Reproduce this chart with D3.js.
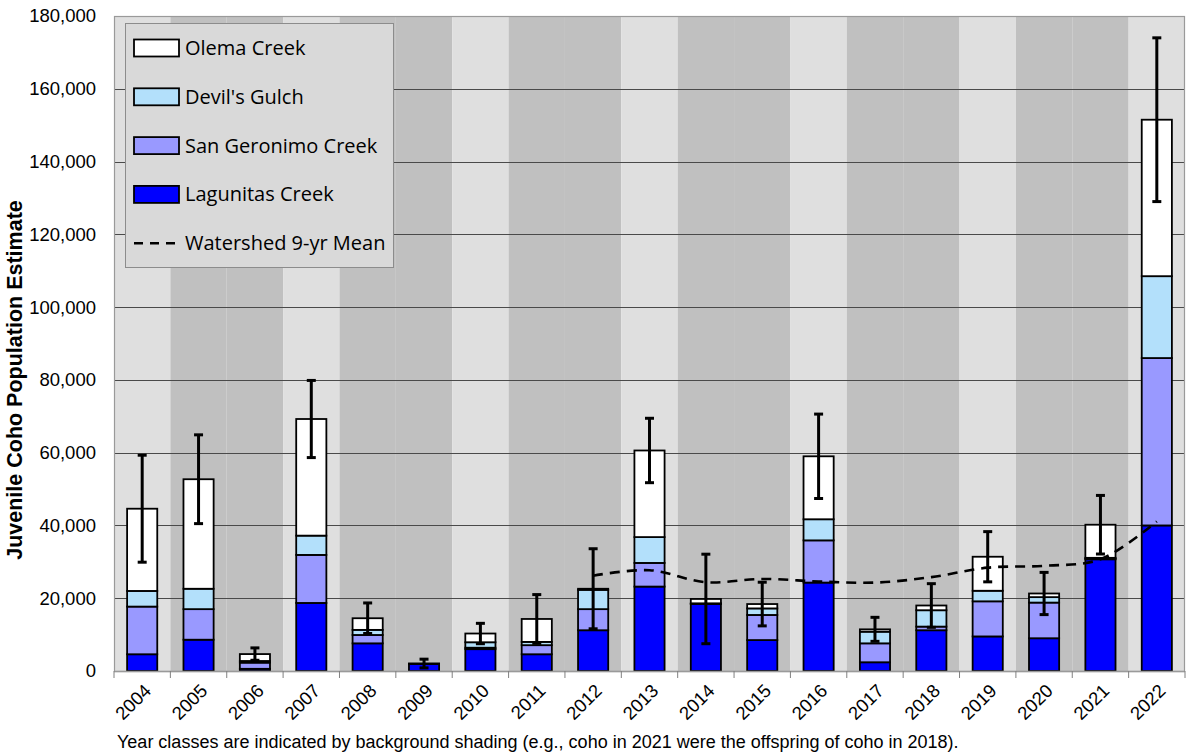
<!DOCTYPE html>
<html>
<head>
<meta charset="utf-8">
<script src="https://cdn.jsdelivr.net/npm/d3@7/dist/d3.min.js"></script>
<style>
  html, body { margin: 0; padding: 0; background: #ffffff; }
  svg { display: block; }
</style>
</head>
<body>
<svg id="chart" width="1188" height="755"></svg>
<script>
// ---- Data ----
const years = ["2004","2005","2006","2007","2008","2009","2010","2011","2012","2013","2014","2015","2016","2017","2018","2019","2020","2021","2022"];
const lagunitas = [4600, 8600, 600, 18700, 7600, 1900, 6000, 4600, 11200, 23200, 18400, 8500, 24300, 2400, 11200, 9500, 9000, 30700, 40000];
const sanGeronimo = [13100, 8400, 1700, 13200, 2300, 50, 400, 2500, 5800, 6500, 100, 6900, 11600, 5200, 1000, 9650, 9800, 200, 46000];
const devilsGulch = [4300, 5600, 450, 5300, 1400, 50, 1500, 900, 5300, 7100, 100, 1800, 5800, 3200, 4500, 2900, 1500, 200, 22500];
const olema = [22600, 30100, 1900, 32050, 3200, 50, 2400, 6300, 300, 23800, 1200, 1200, 17300, 650, 1300, 9350, 1000, 9100, 43000];
const errorHalf = [14700, 12200, 1700, 10600, 4200, 1200, 2800, 6700, 11000, 8850, 12300, 6000, 11600, 3300, 6000, 6900, 5800, 8050, 22500];
const meanYears = ["2012","2013","2014","2015","2016","2017","2018","2019","2020","2021","2022"];
const meanValues = [26200, 27700, 24400, 25300, 24600, 24300, 25800, 28400, 28900, 30700, 41100];
const yTicks = [0, 20000, 40000, 60000, 80000, 100000, 120000, 140000, 160000, 180000];
const seriesNames = ["Lagunitas Creek", "San Geronimo Creek", "Devil's Gulch", "Olema Creek"];
const seriesColors = ["#0000ff", "#9999ff", "#b3e0fb", "#ffffff"];
const lightYears = ["2004","2007","2010","2013","2016","2019","2022"];

// ---- Layout ----
const svg = d3.select("#chart");
const L = 114, R = 1185, T = 16, B = 671;

const x = d3.scaleBand().domain(years).range([L, R]).paddingInner(0).paddingOuter(0);
const y = d3.scaleLinear().domain([0, 180000]).range([B, T]);
const barW = x.bandwidth() * 0.535;

// backgrounds
svg.append("g").selectAll("rect").data(years).join("rect")
  .attr("x", d => x(d)).attr("y", T)
  .attr("width", x.bandwidth()).attr("height", B - T)
  .attr("fill", d => lightYears.includes(d) ? "#dfdfdf" : "#c0c0c0");

// gridlines
svg.append("g").selectAll("line").data(yTicks.filter(v => v > 0 && v < 180000)).join("line")
  .attr("x1", L).attr("x2", R)
  .attr("y1", d => Math.round(y(d)) + 0.5).attr("y2", d => Math.round(y(d)) + 0.5)
  .attr("stroke", "#4a4a4a").attr("stroke-width", 1);

// plot border
svg.append("rect").attr("x", L + 0.5).attr("y", T + 0.5)
  .attr("width", R - L - 1).attr("height", B - T)
  .attr("fill", "none").attr("stroke", "#9a9a9a").attr("stroke-width", 1.2);

// stacked data
const rows = years.map((yr, i) => ({ year: yr, "Lagunitas Creek": lagunitas[i], "San Geronimo Creek": sanGeronimo[i], "Devil's Gulch": devilsGulch[i], "Olema Creek": olema[i] }));
const stack = d3.stack().keys(seriesNames)(rows);

const gBars = svg.append("g");
stack.forEach((layer, li) => {
  gBars.append("g").selectAll("rect").data(layer).join("rect")
    .attr("x", d => x(d.data.year) + (x.bandwidth() - barW) / 2)
    .attr("y", d => y(d[1]))
    .attr("width", barW)
    .attr("height", d => Math.max(0, y(d[0]) - y(d[1])))
    .attr("fill", seriesColors[li])
    .attr("stroke", "#000").attr("stroke-width", 1.8);
});

// x axis
const gx = svg.append("g").attr("transform", `translate(0,${B})`);
gx.append("line").attr("x1", L).attr("x2", R).attr("y1", 0.5).attr("y2", 0.5).attr("stroke", "#9a9a9a").attr("stroke-width", 1.5);
gx.selectAll("line.tk").data(years.concat(["end"])).join("line").attr("class", "tk")
  .attr("x1", d => d === "end" ? R : x(d)).attr("x2", d => d === "end" ? R : x(d))
  .attr("y1", 0).attr("y2", 7).attr("stroke", "#808080").attr("stroke-width", 1);
gx.selectAll("text").data(years).join("text")
  .attr("transform", d => `translate(${x(d) + x.bandwidth() / 2 + 10},${21}) rotate(-45)`)
  .attr("text-anchor", "end")
  .attr("font-family", "Liberation Sans, Arial, sans-serif")
  .attr("font-size", 18.5).attr("fill", "#000")
  .text(d => d);

// y axis labels
const yAxis = d3.axisLeft(y).tickValues(yTicks).tickSize(0).tickPadding(18).tickFormat(d3.format(","));
const gy = svg.append("g").attr("transform", `translate(${L},0)`).call(yAxis);
gy.select(".domain").remove();
gy.selectAll("text").attr("font-family", "Liberation Sans, Arial, sans-serif").attr("font-size", 18.5).attr("fill", "#000");

// error bars
const totals = years.map((yr, i) => lagunitas[i] + sanGeronimo[i] + devilsGulch[i] + olema[i]);
const gErr = svg.append("g").attr("stroke", "#000").attr("stroke-width", 3);
years.forEach((yr, i) => {
  const cx = x(yr) + x.bandwidth() / 2;
  const top = y(totals[i] + errorHalf[i]), bot = y(totals[i] - errorHalf[i]);
  gErr.append("line").attr("x1", cx).attr("x2", cx).attr("y1", top).attr("y2", bot);
  gErr.append("line").attr("x1", cx - 4.5).attr("x2", cx + 4.5).attr("y1", top).attr("y2", top);
  gErr.append("line").attr("x1", cx - 4.5).attr("x2", cx + 4.5).attr("y1", bot).attr("y2", bot);
});

// mean line
const meanLine = d3.line()
  .x((d, i) => x(meanYears[i]) + x.bandwidth() / 2)
  .y(d => y(d))
  .curve(d3.curveCatmullRom.alpha(0.5));
svg.append("path").datum(meanValues)
  .attr("d", meanLine)
  .attr("fill", "none").attr("stroke", "#000").attr("stroke-width", 2.6)
  .attr("stroke-dasharray", "10,7");

// legend
const lg = svg.append("g");
lg.append("rect").attr("x", 125.5).attr("y", 23.5).attr("width", 268).attr("height", 244)
  .attr("fill", "#d9d9d9").attr("stroke", "#8c8c8c").attr("stroke-width", 1);
const legendItems = [
  { name: "Olema Creek", color: "#ffffff" },
  { name: "Devil's Gulch", color: "#b3e0fb" },
  { name: "San Geronimo Creek", color: "#9999ff" },
  { name: "Lagunitas Creek", color: "#0000ff" },
  { name: "Watershed 9-yr Mean", color: null }
];
legendItems.forEach((it, i) => {
  const cy = 48 + i * 48.8;
  if (it.color) {
    lg.append("rect").attr("x", 134).attr("y", cy - 8.5).attr("width", 45).attr("height", 17)
      .attr("fill", it.color).attr("stroke", "#000").attr("stroke-width", 1.8);
  } else {
    lg.append("line").attr("x1", 134).attr("x2", 180).attr("y1", cy).attr("y2", cy)
      .attr("stroke", "#000").attr("stroke-width", 2.6).attr("stroke-dasharray", "9,7");
  }
  lg.append("text").attr("x", 185).attr("y", cy + 7)
    .attr("font-family", "Open Sans, Noto Sans, sans-serif").attr("font-size", 20)
    .attr("fill", "#000").text(it.name);
});

// y title
svg.append("text")
  .attr("transform", `translate(22,380) rotate(-90)`)
  .attr("text-anchor", "middle")
  .attr("font-family", "Liberation Sans, Arial, sans-serif")
  .attr("font-size", 21.5).attr("font-weight", "bold").attr("fill", "#000")
  .text("Juvenile Coho Population Estimate");

// footnote
svg.append("text").attr("x", 117).attr("y", 748)
  .attr("font-family", "Liberation Sans, Arial, sans-serif")
  .attr("font-size", 18).attr("fill", "#000")
  .text("Year classes are indicated by background shading (e.g., coho in 2021 were the offspring of coho in 2018).");
</script>
</body>
</html>
